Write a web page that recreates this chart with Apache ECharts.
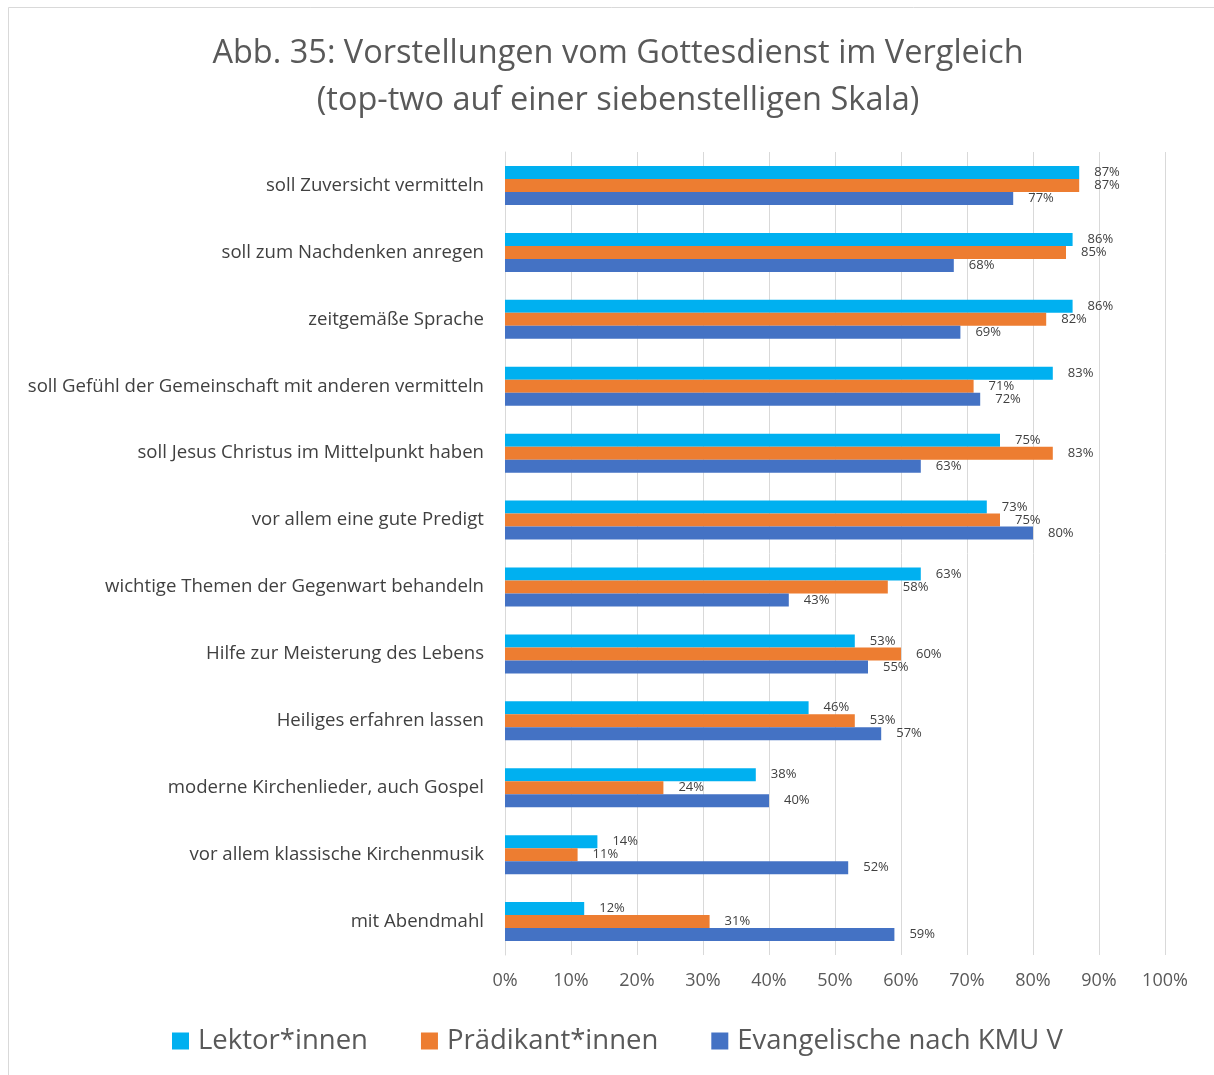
<!DOCTYPE html>
<html>
<head>
<meta charset="utf-8">
<script src="https://cdn.jsdelivr.net/npm/echarts@6/dist/echarts.min.js"></script>
<style>
  html, body { margin: 0; padding: 0; background: #fff; }
  #chart { width: 1214px; height: 1075px; }
</style>
</head>
<body>
<div id="chart"></div>
<script>
// Items, listed top to bottom
const categories = [
  'soll Zuversicht vermitteln',
  'soll zum Nachdenken anregen',
  'zeitgemäße Sprache',
  'soll Gefühl der Gemeinschaft mit anderen vermitteln',
  'soll Jesus Christus im Mittelpunkt haben',
  'vor allem eine gute Predigt',
  'wichtige Themen der Gegenwart behandeln',
  'Hilfe zur Meisterung des Lebens',
  'Heiliges erfahren lassen',
  'moderne Kirchenlieder, auch Gospel',
  'vor allem klassische Kirchenmusik',
  'mit Abendmahl'
];

// Share of top-two answers, in percent
const lektoren      = [87, 86, 86, 83, 75, 73, 63, 53, 46, 38, 14, 12];
const praedikanten  = [87, 85, 82, 71, 83, 75, 58, 60, 53, 24, 11, 31];
const evangelische  = [77, 68, 69, 72, 63, 80, 43, 55, 57, 40, 52, 59];

const seriesNames = ['Lektor*innen', 'Prädikant*innen', 'Evangelische nach KMU V'];
const seriesColors = ['#00B0F0', '#ED7D31', '#4472C4'];

const xTicks = { min: 0, max: 100, interval: 10 };

const FONT = '"Open Sans", "Noto Sans", sans-serif';

const chart = echarts.init(document.getElementById('chart'), null, { renderer: 'canvas' });

function barSeries(name, data, color) {
  return {
    name: name,
    type: 'bar',
    data: data,
    barWidth: 13,
    barGap: '0%',
    itemStyle: { color: color },
    label: {
      show: true,
      position: 'right',
      distance: 15,
      formatter: '{c}%',
      color: '#404040',
      fontFamily: FONT,
      fontSize: 13
    },
    emphasis: { disabled: true }
  };
}

chart.setOption({
  animation: false,
  backgroundColor: '#ffffff',
  graphic: [{
    type: 'rect',
    shape: { x: 8.5, y: 7.5, width: 1230, height: 1100 },
    style: { fill: 'none', stroke: '#d9d9d9', lineWidth: 1 },
    silent: true
  }],
  title: {
    text: 'Abb. 35: Vorstellungen vom Gottesdienst im Vergleich\n(top-two auf einer siebenstelligen Skala)',
    left: 613,
    top: 25,
    textAlign: 'center',
    textStyle: {
      fontFamily: FONT,
      fontSize: 32.5,
      fontWeight: 'normal',
      color: '#595959',
      lineHeight: 47
    }
  },
  legend: {
    data: seriesNames,
    left: 167,
    top: 1022,
    itemWidth: 17,
    itemHeight: 17,
    itemGap: 53,
    icon: 'rect',
    selectedMode: false,
    textStyle: {
      fontFamily: FONT,
      fontSize: 27.5,
      color: '#595959',
      padding: [0, 0, 0, 4]
    }
  },
  grid: {
    left: 505,
    right: 49,
    top: 152,
    bottom: 120,
    containLabel: false
  },
  xAxis: {
    type: 'value',
    min: xTicks.min,
    max: xTicks.max,
    interval: xTicks.interval,
    axisLine: { show: false },
    axisTick: { show: false },
    splitLine: { show: true, lineStyle: { color: '#d9d9d9', width: 1 } },
    axisLabel: {
      formatter: '{value}%',
      fontFamily: FONT,
      fontSize: 18,
      color: '#595959',
      margin: 17
    }
  },
  yAxis: {
    type: 'category',
    data: categories,
    inverse: true,
    axisLine: { show: true, lineStyle: { color: '#d9d9d9', width: 1 } },
    axisTick: { show: false },
    axisLabel: {
      fontFamily: FONT,
      fontSize: 18.6,
      color: '#404040',
      margin: 21
    }
  },
  series: [
    barSeries(seriesNames[0], lektoren, seriesColors[0]),
    barSeries(seriesNames[1], praedikanten, seriesColors[1]),
    barSeries(seriesNames[2], evangelische, seriesColors[2])
  ]
});
</script>
</body>
</html>
